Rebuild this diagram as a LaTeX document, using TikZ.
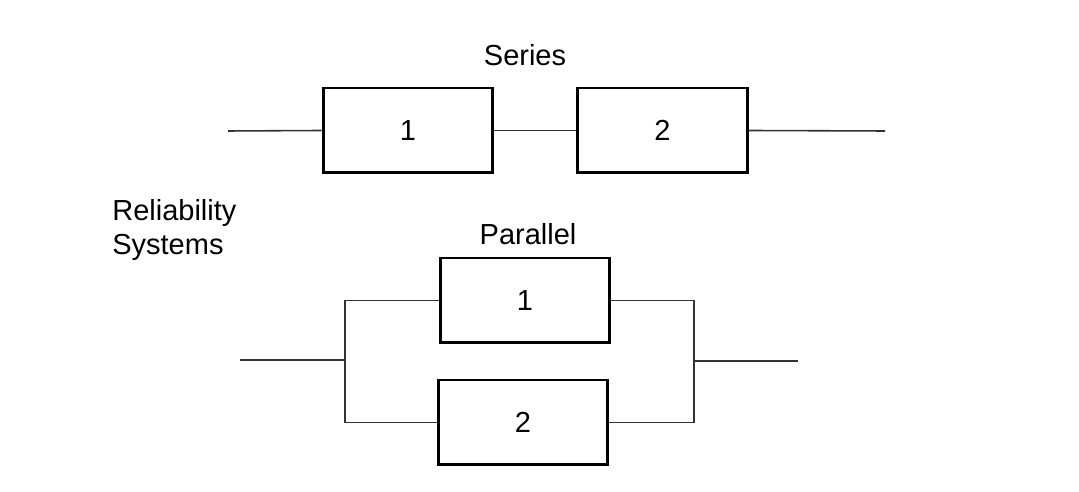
\documentclass[tikz,border=0pt]{standalone}
\usepackage{fontspec}
\setmainfont{Liberation Sans}
\usetikzlibrary{positioning}

\begin{document}
\begin{tikzpicture}[x=0.02cm,y=-0.02cm,
    blockbox/.style={draw,line width=1.7pt,minimum width=3.4cm,minimum height=1.7cm,inner sep=0pt,font=\fontsize{16.5}{19.5}\selectfont},
    wire/.style={line width=0.9pt,black!80},
    caption/.style={font=\fontsize{16.5}{19.5}\selectfont}]
\useasboundingbox (0,0) rectangle (1079,492);
% series
\node[caption] (ser) at (525,55) {Series};
\draw 	(408,130.5) node[blockbox](s1){1}   (662.5,130.5) node[blockbox](s2){2};
\coordinate (sin) at (228,131);
\coordinate (sout) at (885,131);
\draw[wire] (sin) -- (s1.west);
\draw[wire] (s1.east) -- (s2.west);
\draw[wire] (s2.east) -- (sout);

% label
\node[caption,align=left,anchor=west,inner sep=0pt] (rel) at (112,230) {Reliability\\Systems};

% parallel
\node[caption] (par) at (528,234) {Parallel};
\draw 	(525,300.5) node[blockbox](p1){1}   (523,422.5) node[blockbox](p2){2};
\coordinate (pin) at (240,360);
\coordinate (pl) at (345,360);
\coordinate (pr) at (694,361);
\coordinate (pout) at (798,361);
\draw[wire] (pin) -- (pl);
\draw[wire] (p1.west) -| (pl) |- (p2.west);
\draw[wire] (p1.east) -| (pr) |- (p2.east);
\draw[wire] (pr) -- (pout);
\end{tikzpicture}
\end{document}
